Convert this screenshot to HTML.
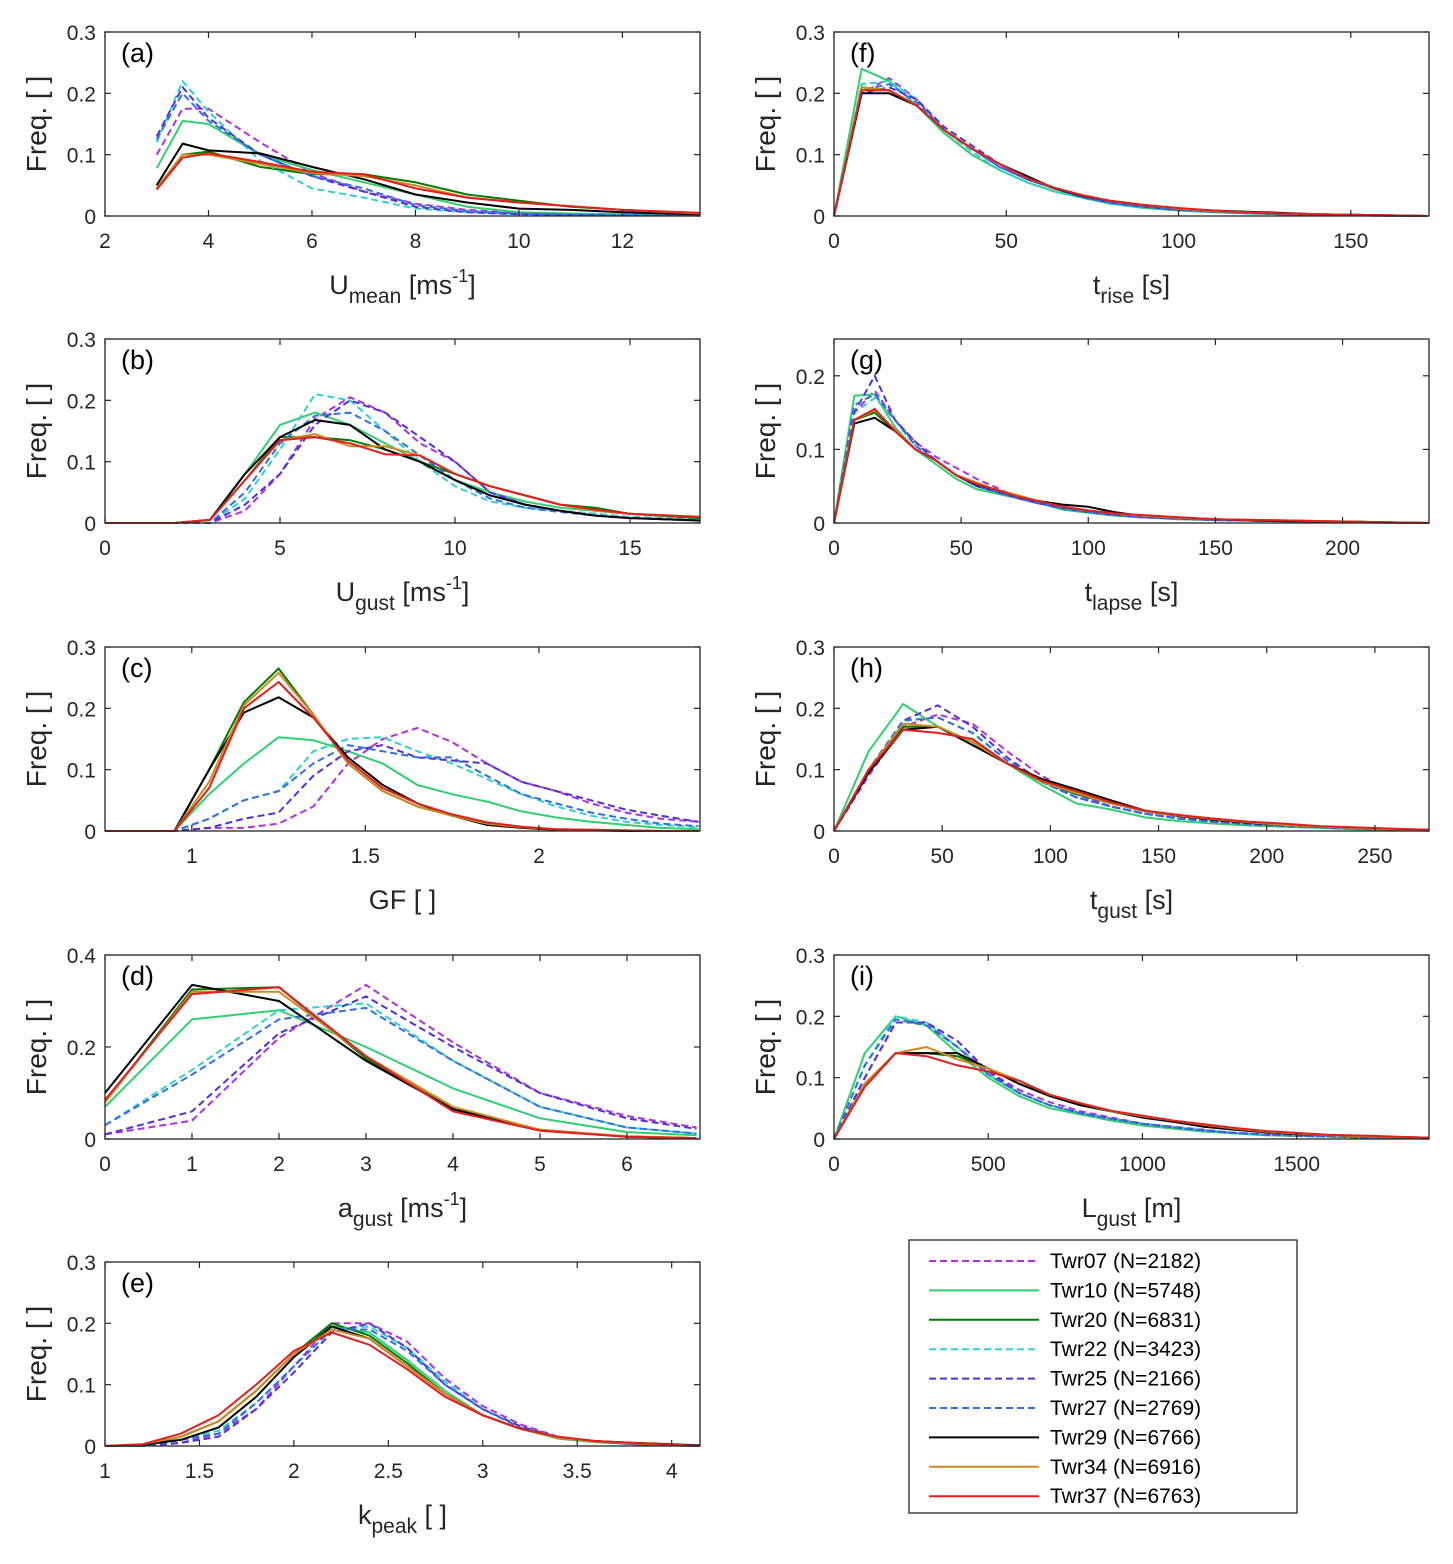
<!DOCTYPE html>
<html><head><meta charset="utf-8">
<style>
body{margin:0;background:#fff;width:1453px;height:1559px;overflow:hidden}
svg{font-family:"Liberation Sans",Arial,sans-serif}
</style></head>
<body>
<svg id="chart" width="1453" height="1559" viewBox="0 0 1453 1559" xmlns="http://www.w3.org/2000/svg"></svg>
<script>
const seriesNames=["Twr07 (N=2182)","Twr10 (N=5748)","Twr20 (N=6831)","Twr22 (N=3423)","Twr25 (N=2166)","Twr27 (N=2769)","Twr29 (N=6766)","Twr34 (N=6916)","Twr37 (N=6763)"];
const seriesColors=["#b030e0","#30d070","#007a00","#30d0d0","#5030e0","#3070e0","#000000","#d08820","#e02020"];
const seriesDashed=[true,false,false,true,true,true,false,false,false];

const xA=[3,3.5,4,5,6,7,8,9,10,11,12,13.5];
const yA=[
[0.10,0.175,0.175,0.12,0.07,0.04,0.02,0.01,0.005,0.003,0.002,0.001],
[0.078,0.155,0.15,0.10,0.075,0.055,0.035,0.015,0.006,0.004,0.003,0.002],
[0.045,0.1,0.105,0.08,0.068,0.068,0.055,0.035,0.025,0.015,0.01,0.004],
[0.12,0.22,0.17,0.09,0.045,0.03,0.012,0.006,0.003,0.002,0.001,0.001],
[0.13,0.21,0.16,0.10,0.065,0.04,0.015,0.006,0.003,0.002,0.001,0.001],
[0.125,0.20,0.155,0.10,0.065,0.045,0.018,0.008,0.004,0.002,0.001,0.001],
[0.05,0.118,0.107,0.102,0.08,0.06,0.035,0.022,0.012,0.01,0.006,0.003],
[0.045,0.1,0.1,0.085,0.07,0.065,0.05,0.03,0.022,0.016,0.01,0.004],
[0.043,0.095,0.102,0.088,0.072,0.068,0.045,0.03,0.022,0.016,0.01,0.005]];

const xB=[0,1,2,3,4,5,6,7,8,9,10,11,12,13,14,15,17];
const yB=[
[0,0,0,0,0.02,0.08,0.17,0.205,0.18,0.13,0.1,0.05,0.03,0.02,0.015,0.01,0.005],
[0,0,0,0.005,0.08,0.16,0.18,0.16,0.13,0.1,0.07,0.05,0.035,0.025,0.02,0.015,0.008],
[0,0,0,0.005,0.07,0.14,0.14,0.135,0.12,0.1,0.08,0.06,0.045,0.03,0.025,0.015,0.008],
[0,0,0,0,0.04,0.12,0.21,0.2,0.15,0.1,0.06,0.035,0.025,0.02,0.015,0.01,0.005],
[0,0,0,0,0.03,0.08,0.16,0.2,0.18,0.14,0.1,0.05,0.03,0.02,0.012,0.008,0.004],
[0,0,0,0,0.05,0.13,0.175,0.18,0.15,0.11,0.07,0.04,0.025,0.018,0.012,0.008,0.004],
[0,0,0,0.005,0.08,0.14,0.168,0.16,0.12,0.1,0.07,0.045,0.03,0.02,0.012,0.008,0.004],
[0,0,0,0.005,0.07,0.135,0.145,0.125,0.125,0.11,0.08,0.06,0.045,0.03,0.02,0.015,0.01],
[0,0,0,0.005,0.07,0.135,0.14,0.13,0.112,0.11,0.08,0.06,0.045,0.03,0.022,0.015,0.01]];

const xC=[0.75,0.95,1.05,1.15,1.25,1.35,1.45,1.55,1.65,1.75,1.85,1.95,2.05,2.15,2.25,2.35,2.46];
const yC=[
[0,0,0.005,0.005,0.012,0.04,0.11,0.15,0.168,0.145,0.11,0.08,0.065,0.045,0.03,0.02,0.015],
[0,0,0.06,0.11,0.153,0.148,0.13,0.11,0.075,0.06,0.048,0.032,0.022,0.015,0.01,0.005,0.003],
[0,0,0.1,0.21,0.265,0.19,0.11,0.065,0.04,0.025,0.012,0.006,0.003,0.002,0.001,0,0],
[0,0,0.02,0.05,0.065,0.13,0.15,0.153,0.13,0.11,0.085,0.06,0.04,0.025,0.015,0.01,0.006],
[0,0,0.005,0.02,0.03,0.09,0.13,0.14,0.12,0.115,0.11,0.08,0.065,0.05,0.035,0.025,0.015],
[0,0,0.02,0.05,0.065,0.11,0.14,0.13,0.12,0.12,0.09,0.06,0.045,0.03,0.02,0.012,0.008],
[0,0,0.1,0.193,0.218,0.185,0.12,0.075,0.045,0.025,0.01,0.005,0.002,0.001,0,0,0],
[0,0,0.08,0.205,0.258,0.19,0.11,0.065,0.04,0.025,0.012,0.006,0.003,0.002,0.001,0,0],
[0,0,0.07,0.2,0.243,0.185,0.115,0.07,0.045,0.027,0.014,0.007,0.003,0.002,0.001,0,0]];

const xD=[0,1,2,3,4,5,6,6.8];
const yD=[
[0.01,0.04,0.22,0.335,0.21,0.1,0.05,0.025],
[0.07,0.26,0.28,0.2,0.11,0.045,0.015,0.008],
[0.08,0.325,0.33,0.175,0.065,0.02,0.005,0.002],
[0.03,0.15,0.28,0.295,0.17,0.07,0.025,0.012],
[0.01,0.06,0.23,0.31,0.2,0.1,0.045,0.022],
[0.03,0.14,0.26,0.285,0.17,0.07,0.025,0.012],
[0.1,0.335,0.3,0.17,0.065,0.02,0.005,0.002],
[0.08,0.32,0.32,0.18,0.07,0.02,0.006,0.002],
[0.085,0.315,0.33,0.18,0.06,0.018,0.005,0.002]];

const xE=[1,1.2,1.4,1.6,1.8,2,2.2,2.4,2.6,2.8,3,3.2,3.4,3.6,3.8,4,4.15];
const yE=[
[0,0,0.005,0.02,0.06,0.13,0.2,0.2,0.17,0.11,0.065,0.035,0.015,0.008,0.004,0.002,0.001],
[0,0,0.015,0.04,0.09,0.15,0.195,0.185,0.14,0.09,0.05,0.028,0.012,0.006,0.003,0.001,0],
[0,0.002,0.015,0.04,0.09,0.15,0.2,0.18,0.135,0.085,0.05,0.028,0.013,0.007,0.004,0.002,0],
[0,0,0.01,0.025,0.07,0.13,0.19,0.195,0.16,0.105,0.06,0.03,0.015,0.007,0.003,0.001,0],
[0,0,0.005,0.015,0.06,0.12,0.185,0.2,0.16,0.1,0.06,0.032,0.014,0.007,0.003,0.001,0],
[0,0,0.01,0.02,0.07,0.13,0.19,0.19,0.155,0.1,0.06,0.03,0.014,0.007,0.003,0.001,0],
[0,0.002,0.01,0.03,0.08,0.145,0.195,0.175,0.13,0.085,0.05,0.028,0.014,0.008,0.005,0.003,0.001],
[0,0.003,0.015,0.04,0.09,0.15,0.19,0.175,0.13,0.085,0.05,0.028,0.013,0.007,0.004,0.002,0],
[0,0.003,0.02,0.05,0.1,0.155,0.185,0.165,0.125,0.08,0.05,0.028,0.015,0.008,0.005,0.002,0]];

const xF=[0,8,16,24,32,40,48,56,64,72,80,90,100,110,120,130,140,150,172];
const yF=[
[0,0.2,0.225,0.19,0.14,0.11,0.08,0.06,0.045,0.03,0.022,0.015,0.01,0.007,0.005,0.003,0.002,0.001,0],
[0,0.24,0.22,0.18,0.135,0.1,0.075,0.055,0.04,0.03,0.02,0.013,0.009,0.006,0.004,0.003,0.002,0.001,0],
[0,0.21,0.205,0.18,0.14,0.11,0.085,0.06,0.045,0.033,0.024,0.017,0.012,0.008,0.006,0.004,0.003,0.002,0],
[0,0.215,0.22,0.19,0.14,0.105,0.075,0.055,0.04,0.03,0.02,0.014,0.01,0.007,0.005,0.003,0.002,0.001,0],
[0,0.2,0.21,0.19,0.145,0.115,0.085,0.06,0.045,0.032,0.022,0.015,0.01,0.007,0.005,0.003,0.002,0.001,0],
[0,0.205,0.215,0.185,0.14,0.11,0.08,0.06,0.045,0.03,0.022,0.015,0.01,0.007,0.005,0.003,0.002,0.001,0],
[0,0.2,0.2,0.18,0.14,0.11,0.085,0.065,0.045,0.033,0.025,0.018,0.012,0.009,0.007,0.005,0.003,0.002,0],
[0,0.21,0.205,0.18,0.14,0.11,0.085,0.062,0.046,0.034,0.025,0.018,0.012,0.008,0.006,0.004,0.003,0.002,0],
[0,0.205,0.205,0.18,0.14,0.11,0.085,0.062,0.046,0.034,0.025,0.018,0.013,0.009,0.006,0.004,0.003,0.002,0]];

const xG=[0,8,16,24,32,40,48,56,64,72,80,90,100,110,120,135,150,170,200,234];
const yG=[
[0,0.15,0.18,0.14,0.11,0.09,0.075,0.06,0.048,0.035,0.027,0.02,0.015,0.012,0.009,0.006,0.004,0.003,0.001,0],
[0,0.173,0.175,0.13,0.1,0.08,0.06,0.046,0.04,0.034,0.028,0.018,0.014,0.01,0.008,0.005,0.004,0.003,0.001,0],
[0,0.14,0.15,0.125,0.1,0.085,0.065,0.052,0.045,0.036,0.03,0.022,0.017,0.013,0.01,0.007,0.005,0.003,0.002,0],
[0,0.15,0.17,0.14,0.105,0.085,0.065,0.05,0.042,0.034,0.027,0.02,0.015,0.011,0.008,0.006,0.004,0.003,0.001,0],
[0,0.15,0.2,0.14,0.11,0.085,0.065,0.05,0.042,0.034,0.027,0.02,0.015,0.011,0.008,0.006,0.004,0.003,0.001,0],
[0,0.16,0.175,0.14,0.105,0.085,0.065,0.05,0.042,0.034,0.027,0.02,0.015,0.011,0.008,0.006,0.004,0.003,0.001,0],
[0,0.135,0.143,0.125,0.1,0.085,0.065,0.052,0.045,0.036,0.03,0.025,0.022,0.015,0.01,0.007,0.005,0.003,0.002,0],
[0,0.14,0.153,0.127,0.1,0.085,0.065,0.055,0.045,0.038,0.03,0.022,0.017,0.013,0.01,0.007,0.005,0.004,0.002,0],
[0,0.14,0.155,0.125,0.1,0.085,0.065,0.053,0.045,0.036,0.03,0.022,0.017,0.013,0.011,0.008,0.005,0.004,0.002,0]];

const xH=[0,16,32,48,64,80,96,112,128,144,160,176,192,208,224,240,256,275];
const yH=[
[0,0.09,0.17,0.19,0.175,0.13,0.09,0.06,0.04,0.028,0.02,0.015,0.011,0.008,0.006,0.004,0.003,0.002],
[0,0.13,0.207,0.17,0.145,0.11,0.075,0.045,0.035,0.022,0.016,0.012,0.009,0.007,0.005,0.003,0.002,0.001],
[0,0.1,0.17,0.17,0.145,0.11,0.08,0.06,0.045,0.032,0.024,0.02,0.014,0.01,0.007,0.005,0.003,0.002],
[0,0.1,0.18,0.185,0.16,0.115,0.08,0.055,0.04,0.028,0.02,0.015,0.011,0.008,0.006,0.004,0.003,0.002],
[0,0.1,0.18,0.205,0.17,0.12,0.08,0.055,0.04,0.028,0.02,0.015,0.011,0.008,0.006,0.004,0.003,0.002],
[0,0.1,0.18,0.185,0.16,0.115,0.08,0.055,0.04,0.028,0.02,0.015,0.011,0.008,0.006,0.004,0.003,0.002],
[0,0.095,0.165,0.17,0.14,0.11,0.085,0.068,0.05,0.033,0.024,0.018,0.013,0.01,0.007,0.005,0.003,0.002],
[0,0.1,0.175,0.17,0.145,0.11,0.08,0.062,0.045,0.032,0.025,0.019,0.014,0.01,0.007,0.005,0.003,0.002],
[0,0.1,0.165,0.16,0.15,0.11,0.082,0.065,0.047,0.033,0.026,0.02,0.015,0.012,0.008,0.006,0.004,0.002]];

const xI=[0,100,200,300,400,500,600,700,800,900,1000,1100,1200,1300,1400,1500,1600,1750,1929];
const yI=[
[0,0.1,0.19,0.19,0.15,0.11,0.08,0.06,0.045,0.035,0.025,0.02,0.015,0.01,0.008,0.006,0.004,0.003,0.001],
[0,0.14,0.2,0.185,0.14,0.1,0.07,0.05,0.04,0.03,0.022,0.017,0.012,0.009,0.006,0.005,0.004,0.002,0.001],
[0,0.09,0.14,0.14,0.135,0.115,0.09,0.07,0.055,0.045,0.035,0.028,0.022,0.016,0.012,0.009,0.006,0.004,0.002],
[0,0.12,0.2,0.19,0.15,0.105,0.075,0.055,0.042,0.033,0.025,0.019,0.014,0.01,0.007,0.005,0.004,0.002,0.001],
[0,0.1,0.19,0.19,0.16,0.11,0.075,0.055,0.042,0.033,0.025,0.019,0.014,0.01,0.007,0.005,0.004,0.002,0.001],
[0,0.12,0.195,0.185,0.15,0.105,0.075,0.055,0.042,0.033,0.025,0.019,0.014,0.01,0.007,0.005,0.004,0.002,0.001],
[0,0.09,0.14,0.14,0.14,0.115,0.09,0.07,0.055,0.045,0.035,0.028,0.02,0.015,0.011,0.008,0.006,0.004,0.002],
[0,0.09,0.14,0.15,0.13,0.115,0.095,0.072,0.058,0.045,0.037,0.03,0.023,0.017,0.012,0.009,0.006,0.004,0.002],
[0,0.085,0.14,0.135,0.12,0.11,0.095,0.072,0.058,0.046,0.038,0.03,0.024,0.018,0.013,0.01,0.007,0.005,0.002]];

const panels=[
 {id:"a",L:105,T:32,xmin:2,xmax:13.5,ymax:0.3,xt:[2,4,6,8,10,12],yt:[0,0.1,0.2,0.3],xs:xA,ys:yA,t:"U",sub:"mean",unit:"[ms",sup:"-1",end:"]"},
 {id:"b",L:105,T:339,xmin:0,xmax:17,ymax:0.3,xt:[0,5,10,15],yt:[0,0.1,0.2,0.3],xs:xB,ys:yB,t:"U",sub:"gust",unit:"[ms",sup:"-1",end:"]"},
 {id:"c",L:105,T:647,xmin:0.75,xmax:2.464,ymax:0.3,xt:[1,1.5,2],yt:[0,0.1,0.2,0.3],xs:xC,ys:yC,t:"GF [ ]",sub:"",unit:"",sup:"",end:""},
 {id:"d",L:105,T:955,xmin:0,xmax:6.84,ymax:0.4,xt:[0,1,2,3,4,5,6],yt:[0,0.2,0.4],xs:xD,ys:yD,t:"a",sub:"gust",unit:"[ms",sup:"-1",end:"]"},
 {id:"e",L:105,T:1262,xmin:1,xmax:4.15,ymax:0.3,xt:[1,1.5,2,2.5,3,3.5,4],yt:[0,0.1,0.2,0.3],xs:xE,ys:yE,t:"k",sub:"peak",unit:"[ ]",sup:"",end:""},
 {id:"f",L:834,T:32,xmin:0,xmax:172.7,ymax:0.3,xt:[0,50,100,150],yt:[0,0.1,0.2,0.3],xs:xF,ys:yF,t:"t",sub:"rise",unit:"[s]",sup:"",end:""},
 {id:"g",L:834,T:339,xmin:0,xmax:234,ymax:0.25,xt:[0,50,100,150,200],yt:[0,0.1,0.2],xs:xG,ys:yG,t:"t",sub:"lapse",unit:"[s]",sup:"",end:""},
 {id:"h",L:834,T:647,xmin:0,xmax:275,ymax:0.3,xt:[0,50,100,150,200,250],yt:[0,0.1,0.2,0.3],xs:xH,ys:yH,t:"t",sub:"gust",unit:"[s]",sup:"",end:""},
 {id:"i",L:834,T:955,xmin:0,xmax:1929,ymax:0.3,xt:[0,500,1000,1500],yt:[0,0.1,0.2,0.3],xs:xI,ys:yI,t:"L",sub:"gust",unit:"[m]",sup:"",end:""}
];
const W=595,H=184,NS="http://www.w3.org/2000/svg";
const svg=document.getElementById("chart");
function mk(tag,attrs,parent){const e=document.createElementNS(NS,tag);for(const k in attrs)e.setAttribute(k,attrs[k]);(parent||svg).appendChild(e);return e;}

panels.forEach(p=>{
 const g=mk("g",{});
 
 
 const sx=v=>p.L+(v-p.xmin)/(p.xmax-p.xmin)*W;
 const sy=v=>p.T+H-v/p.ymax*H;
 mk("rect",{x:p.L,y:p.T,width:W,height:H,fill:"#fff"},g);
 p.ys.forEach((arr,si)=>{
  const d=arr.map((v,i)=>(i?"L":"M")+sx(p.xs[i]).toFixed(1)+","+sy(v).toFixed(1)).join("");
  const path=mk("path",{d:d,fill:"none",stroke:seriesColors[si],"stroke-width":2,"stroke-dasharray":seriesDashed[si]?"7,4":"none","stroke-linejoin":"round"},g);
  
  
 });
 const box=mk("rect",{x:p.L,y:p.T,width:W,height:H,fill:"none",stroke:"#262626","stroke-width":1.3},g);
 
 
 p.xt.forEach(v=>{
  const x=sx(v);
  mk("line",{x1:x,y1:p.T+H,x2:x,y2:p.T+H-6,stroke:"#262626","stroke-width":1.2},g);
  mk("line",{x1:x,y1:p.T,x2:x,y2:p.T+6,stroke:"#262626","stroke-width":1.2},g);
  const t=mk("text",{x:x,y:p.T+H+32,"text-anchor":"middle","font-size":21,fill:"#262626"},g);
  t.textContent=String(v);
  
  
 });
 p.yt.forEach(v=>{
  const y=sy(v);
  mk("line",{x1:p.L,y1:y,x2:p.L+6,y2:y,stroke:"#262626","stroke-width":1.2},g);
  mk("line",{x1:p.L+W,y1:y,x2:p.L+W-6,y2:y,stroke:"#262626","stroke-width":1.2},g);
  const t=mk("text",{x:p.L-9,y:y+8,"text-anchor":"end","font-size":21,fill:"#262626"},g);
  t.textContent=String(v);
  
  
 });
 const lab=mk("text",{x:p.L+16,y:p.T+30,"font-size":27,fill:"#000"},g);
 lab.textContent="("+p.id+")";
 
 
 const yl=mk("text",{x:0,y:0,"font-size":28,fill:"#262626","text-anchor":"middle",transform:"translate("+(p.L-59)+","+(p.T+H/2)+") rotate(-90)"},g);
 yl.textContent="Freq. [ ]";
 
 
 const xl=mk("text",{x:p.L+W/2,y:p.T+H+78,"font-size":27,fill:"#262626","text-anchor":"middle"},g);
 
 
 const s1=mk("tspan",{},xl);s1.textContent=p.t;
 if(p.sub){const s=mk("tspan",{"font-size":21,dy:9},xl);s.textContent=p.sub;}
 if(p.unit){const s=mk("tspan",{dy:p.sub?-9:0},xl);s.textContent=" "+p.unit;}
 if(p.sup){const s=mk("tspan",{"font-size":18,dy:-12},xl);s.textContent=p.sup;}
 if(p.end){const s=mk("tspan",{dy:12},xl);s.textContent=p.end;}
});

const lg=mk("g",{});


mk("rect",{x:909,y:1240,width:388,height:273,fill:"#fff",stroke:"#262626","stroke-width":1.3},lg);
seriesNames.forEach((n,i)=>{
 const y=1261+i*29.4;
 const e=mk("g",{},lg);
 
 
 mk("line",{x1:929,y1:y,x2:1039,y2:y,stroke:seriesColors[i],"stroke-width":2,"stroke-dasharray":seriesDashed[i]?"7,4":"none"},e);
 const t=mk("text",{x:1050,y:y+7,"font-size":21,fill:"#000"},e);
 t.textContent=n;
});
</script>
</body></html>
